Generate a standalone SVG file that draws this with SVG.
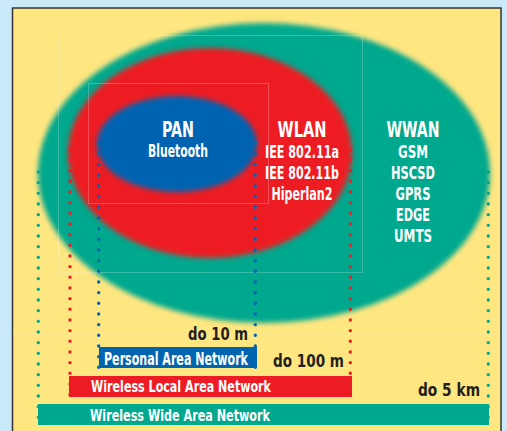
<svg xmlns="http://www.w3.org/2000/svg" width="507" height="431" viewBox="0 0 507 431">
<defs>
<style>
.t{font-family:"DejaVu Sans Condensed","DejaVu Sans",sans-serif;font-weight:bold;fill:#fff;text-anchor:middle}
.d{font-family:"DejaVu Sans Condensed","DejaVu Sans",sans-serif;font-weight:bold;fill:#231f20}
.b{font-family:"DejaVu Sans Condensed","DejaVu Sans",sans-serif;font-weight:bold;fill:#fff}
.dot{fill:none;stroke-width:3.4;stroke-linecap:round;stroke-dasharray:0 10.667}
.faint{fill:none;stroke:#fff;stroke-opacity:0.22;stroke-width:1}
</style>
<filter id="soft" x="-10%" y="-10%" width="120%" height="120%">
<feGaussianBlur stdDeviation="2.8"/>
</filter>
</defs>
<rect width="507" height="431" fill="#c9e9f9"/>
<rect x="12.5" y="8" width="488.5" height="430" fill="#fee681" stroke="#333" stroke-width="1.5"/>
<g id="wwan">
<ellipse cx="264" cy="173" rx="226" ry="150" fill="#00a88e" filter="url(#soft)"/>
</g>
<g id="wlan">
<ellipse cx="210" cy="153" rx="142" ry="105" fill="#ed1c24" filter="url(#soft)"/>
</g>
<g id="pan">
<ellipse cx="177" cy="144" rx="80" ry="48" fill="#0064b1" filter="url(#soft)"/>
</g>
<rect class="faint" x="58.5" y="35.5" width="304" height="237"/>
<rect class="faint" x="88.5" y="83.5" width="180" height="120"/>
<line class="faint" x1="13" y1="334" x2="500" y2="334" stroke-opacity="0.15"/>
<g id="connectors">
<line class="dot" stroke="#00a88e" x1="38.3" y1="172" x2="38.3" y2="426"/>
<line class="dot" stroke="#00a88e" x1="488.3" y1="172" x2="488.3" y2="426"/>
<line class="dot" stroke="#ed1c24" x1="70" y1="149.3" x2="70" y2="398"/>
<line class="dot" stroke="#ed1c24" x1="350.3" y1="149.3" x2="350.3" y2="398"/>
<line class="dot" stroke="#0064b1" x1="98.7" y1="143.3" x2="98.7" y2="369"/>
<line class="dot" stroke="#0064b1" x1="255.3" y1="143.3" x2="255.3" y2="369"/>
</g>
<g id="pan-label">
<text class="t" x="178" y="137" font-size="22" textLength="32" lengthAdjust="spacingAndGlyphs">PAN</text>
<text class="t" x="178" y="157" font-size="17" textLength="60" lengthAdjust="spacingAndGlyphs">Bluetooth</text>
</g>
<g id="wlan-label">
<text class="t" x="302" y="137" font-size="22" textLength="49" lengthAdjust="spacingAndGlyphs">WLAN</text>
<text class="t" x="302" y="158" font-size="17" textLength="74" lengthAdjust="spacingAndGlyphs">IEE 802.11a</text>
<text class="t" x="302" y="179" font-size="17" textLength="74" lengthAdjust="spacingAndGlyphs">IEE 802.11b</text>
<text class="t" x="302" y="200" font-size="17" textLength="61" lengthAdjust="spacingAndGlyphs">Hiperlan2</text>
</g>
<g id="wwan-label">
<text class="t" x="413" y="137" font-size="22" textLength="53" lengthAdjust="spacingAndGlyphs">WWAN</text>
<text class="t" x="413" y="158" font-size="17" textLength="30" lengthAdjust="spacingAndGlyphs">GSM</text>
<text class="t" x="413" y="179" font-size="17" textLength="44" lengthAdjust="spacingAndGlyphs">HSCSD</text>
<text class="t" x="413" y="200" font-size="17" textLength="35" lengthAdjust="spacingAndGlyphs">GPRS</text>
<text class="t" x="413" y="221" font-size="17" textLength="34" lengthAdjust="spacingAndGlyphs">EDGE</text>
<text class="t" x="413" y="242" font-size="17" textLength="38" lengthAdjust="spacingAndGlyphs">UMTS</text>
</g>
<g id="range-pan">
<text class="d" x="188" y="340" font-size="17" textLength="60" lengthAdjust="spacingAndGlyphs">do 10 m</text>
<rect x="99" y="347" width="158" height="21" fill="#0064b1"/>
<text class="b" transform="translate(104 365) scale(1 1.25)" x="0" y="0" font-size="13.5" textLength="144" lengthAdjust="spacingAndGlyphs">Personal Area Network</text>
</g>
<g id="range-wlan">
<text class="d" x="273" y="367" font-size="18.5" textLength="71" lengthAdjust="spacingAndGlyphs">do 100 m</text>
<rect x="69" y="376" width="283" height="21" fill="#ed1c24"/>
<text class="b" x="91" y="392" font-size="16.5" textLength="180" lengthAdjust="spacingAndGlyphs">Wireless Local Area Network</text>
</g>
<g id="range-wwan">
<text class="d" x="418" y="396" font-size="18" textLength="62" lengthAdjust="spacingAndGlyphs">do 5 km</text>
<rect x="38" y="404" width="451" height="21" fill="#00a88e"/>
<text class="b" x="90" y="421" font-size="16.5" textLength="180" lengthAdjust="spacingAndGlyphs">Wireless Wide Area Network</text>
</g>
</svg>
